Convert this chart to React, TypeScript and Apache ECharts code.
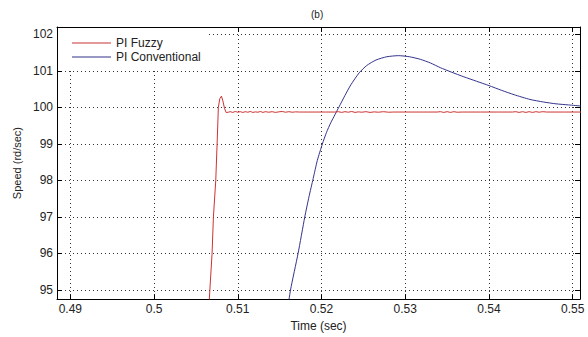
import React, { useEffect, useRef } from "react";
import * as echarts from "echarts";

const xTicks = [0.49, 0.5, 0.51, 0.52, 0.53, 0.54, 0.55];
const yTicks = [95, 96, 97, 98, 99, 100, 101, 102];

const fuzzyTime = [
  0.5062, 0.5066, 0.50693, 0.50709, 0.50737, 0.50753, 0.50768, 0.50785, 0.50805, 0.50822,
  0.50842, 0.50862, 0.50885, 0.5091, 0.5094, 0.5097, 0.51, 0.5103, 0.5106, 0.5109,
  0.5112, 0.5115, 0.5118, 0.5121, 0.5124, 0.5127, 0.513, 0.5133, 0.5137, 0.5141,
  0.5145, 0.5149, 0.5153, 0.5157, 0.5161, 0.5165, 0.5169, 0.5174, 0.519, 0.5205,
  0.5216, 0.522, 0.5224, 0.5228, 0.5232, 0.5236, 0.524, 0.5244, 0.5248, 0.5253,
  0.5258, 0.5263, 0.5268, 0.5274, 0.528, 0.5286, 0.53, 0.532, 0.5338, 0.5342,
  0.5346, 0.535, 0.5354, 0.5358, 0.5362, 0.5368, 0.539, 0.541, 0.5428, 0.5432,
  0.5436, 0.544, 0.5444, 0.5448, 0.5452, 0.5456, 0.546, 0.5464, 0.5469, 0.549, 0.551,
];
const fuzzySpeed = [
  93.0, 94.75, 96.0, 97.0, 98.0, 99.0, 100.0, 100.24, 100.31, 100.18,
  99.97, 99.86, 99.87, 99.885, 99.865, 99.89, 99.87, 99.885, 99.865, 99.885,
  99.87, 99.89, 99.865, 99.88, 99.87, 99.89, 99.865, 99.885, 99.87, 99.885,
  99.865, 99.88, 99.89, 99.87, 99.885, 99.87, 99.88, 99.875, 99.875, 99.875,
  99.875, 99.885, 99.865, 99.885, 99.87, 99.89, 99.865, 99.88, 99.87, 99.885,
  99.865, 99.88, 99.87, 99.885, 99.87, 99.875, 99.875, 99.875, 99.875, 99.885,
  99.865, 99.885, 99.865, 99.885, 99.87, 99.875, 99.875, 99.875, 99.875, 99.885,
  99.865, 99.885, 99.865, 99.885, 99.865, 99.885, 99.87, 99.885, 99.875, 99.875, 99.875,
];

const convTime = [
  0.5155, 0.5163, 0.5172, 0.518, 0.5185, 0.519, 0.5195, 0.5201, 0.5206, 0.5211,
  0.5216, 0.5221, 0.5228, 0.5235, 0.5245, 0.5254, 0.5265, 0.5278, 0.5292, 0.5305,
  0.5318, 0.533, 0.5342, 0.5355, 0.537, 0.5385, 0.54, 0.5415, 0.543, 0.5449,
  0.5465, 0.548, 0.5495, 0.551,
];
const convSpeed = [
  93.8, 95.0, 96.0, 97.0, 97.55, 98.05, 98.55, 99.0, 99.32, 99.58,
  99.8, 100.02, 100.33, 100.62, 100.95, 101.15, 101.3, 101.39, 101.42, 101.39,
  101.32, 101.22, 101.09, 100.97, 100.84, 100.72, 100.6, 100.47, 100.35, 100.22,
  100.15, 100.1, 100.07, 100.04,
];

const X_MIN = 0.48841;
const X_MAX = 0.55087;
const Y_MIN = 94.75;
const Y_MAX = 102.205;

const FONT = "'Liberation Sans', Arial, sans-serif";
const TXT = "#222";

export default function App() {
  const ref = useRef<HTMLDivElement>(null);
  useEffect(() => {
    if (!ref.current) return;
    const chart = echarts.init(ref.current, undefined, { renderer: "svg" });
    const zip = (a: number[], b: number[]) => a.map((v, i) => [v, b[i]]);
    const splitLine = { show: true, lineStyle: { color: "#333", type: [1, 3], width: 1 } };
    const axisLine = { show: true, onZero: false, lineStyle: { color: "#000", width: 1 } };
    const tick = (vals: number[]) => ({
      show: true,
      inside: true,
      length: 5,
      customValues: vals,
      lineStyle: { color: "#000", width: 1 },
    });
    chart.setOption({
      animation: false,
      backgroundColor: "#fff",
      textStyle: { fontFamily: FONT },
      grid: { left: 57, right: 8, top: 27, bottom: 32, containLabel: false },
      graphic: [
        {
          type: "text",
          left: 311,
          top: 9,
          style: { text: "(b)", fontSize: 10, fill: TXT, fontFamily: FONT },
        },
      ],
      legend: {
        data: ["PI Fuzzy", "PI Conventional"],
        orient: "vertical",
        left: 58,
        top: 28,
        padding: [8, 6, 4, 14],
        backgroundColor: "#fff",
        icon: "rect",
        itemWidth: 39,
        itemHeight: 1,
        itemGap: 0,
        textStyle: { fontSize: 12, color: TXT, fontFamily: FONT, lineHeight: 14 },
      },
      xAxis: [
        {
          type: "value",
          min: X_MIN,
          max: X_MAX,
          position: "bottom",
          name: "Time (sec)",
          nameLocation: "middle",
          nameGap: 17,
          nameTextStyle: { fontSize: 12, color: TXT, fontFamily: FONT },
          axisLine,
          axisTick: tick(xTicks),
          axisLabel: {
            customValues: xTicks,
            fontSize: 12,
            color: TXT,
            margin: 4,
            formatter: (v: number) => String(+v.toFixed(3)),
          },
          splitLine,
        },
        {
          type: "value",
          min: X_MIN,
          max: X_MAX,
          position: "top",
          axisLine,
          axisTick: tick(xTicks),
          axisLabel: { show: false },
          splitLine: { show: false },
        },
      ],
      yAxis: [
        {
          type: "value",
          min: Y_MIN,
          max: Y_MAX,
          position: "left",
          name: "Speed (rd/sec)",
          nameLocation: "middle",
          nameGap: 33,
          nameTextStyle: { fontSize: 11, color: TXT, fontFamily: FONT },
          axisLine,
          axisTick: tick(yTicks),
          axisLabel: {
            customValues: yTicks,
            fontSize: 12,
            color: TXT,
            margin: 4,
          },
          splitLine,
        },
        {
          type: "value",
          min: Y_MIN,
          max: Y_MAX,
          position: "right",
          axisLine,
          axisTick: tick(yTicks),
          axisLabel: { show: false },
          splitLine: { show: false },
        },
      ],
      series: [
        {
          name: "PI Fuzzy",
          type: "line",
          data: zip(fuzzyTime, fuzzySpeed),
          showSymbol: false,
          symbol: "none",
          lineStyle: { color: "#cc3333", width: 1 },
          itemStyle: { color: "#cc3333" },
          clip: true,
          z: 3,
        },
        {
          name: "PI Conventional",
          type: "line",
          data: zip(convTime, convSpeed),
          showSymbol: false,
          symbol: "none",
          smooth: 0.2,
          lineStyle: { color: "#33338c", width: 1 },
          itemStyle: { color: "#33338c" },
          clip: true,
          z: 2,
        },
      ],
    });
    return () => chart.dispose();
  }, []);
  return <div ref={ref} style={{ width: 588, height: 337, position: "absolute", left: 0, top: 0 }} />;
}
